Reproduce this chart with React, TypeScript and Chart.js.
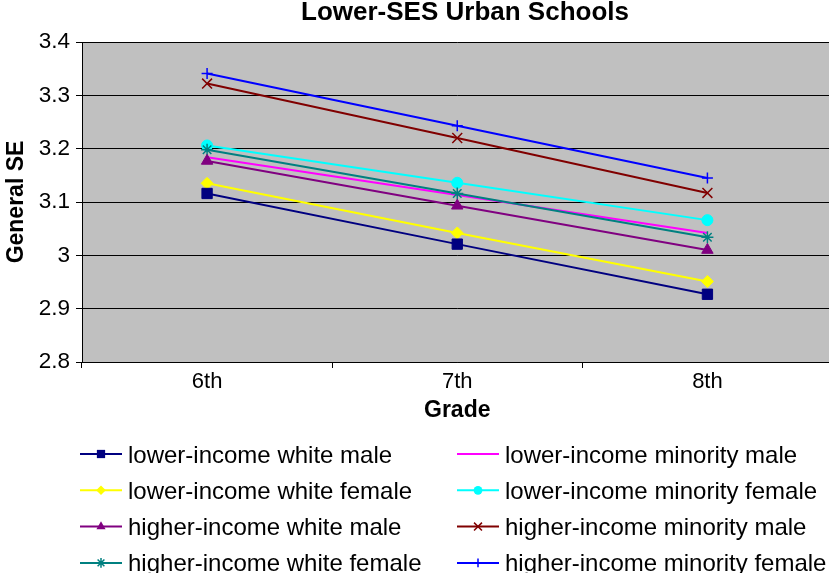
import React, { useEffect, useRef } from 'react';
import { Chart, registerables } from 'chart.js';

Chart.register(...registerables);

const chartTitle = 'Lower-SES Urban Schools';
const xAxisTitle = 'Grade';
const yAxisTitle = 'General SE';
const grades = ['6th', '7th', '8th'];
const yMin = 2.8;
const yMax = 3.4;
const yStep = 0.1;

const lowerIncomeWhiteMale = [3.116, 3.021, 2.927];
const lowerIncomeWhiteFemale = [3.135, 3.042, 2.951];
const higherIncomeWhiteMale = [3.177, 3.093, 3.010];
const higherIncomeWhiteFemale = [3.198, 3.116, 3.034];
const lowerIncomeMinorityMale = [3.184, 3.113, 3.042];
const lowerIncomeMinorityFemale = [3.206, 3.136, 3.066];
const higherIncomeMinorityMale = [3.322, 3.220, 3.117];
const higherIncomeMinorityFemale = [3.341, 3.243, 3.145];

const seriesNames = [
  'lower-income white male',
  'lower-income white female',
  'higher-income white male',
  'higher-income white female',
  'lower-income minority male',
  'lower-income minority female',
  'higher-income minority male',
  'higher-income minority female',
];
const seriesValues = [
  lowerIncomeWhiteMale,
  lowerIncomeWhiteFemale,
  higherIncomeWhiteMale,
  higherIncomeWhiteFemale,
  lowerIncomeMinorityMale,
  lowerIncomeMinorityFemale,
  higherIncomeMinorityMale,
  higherIncomeMinorityFemale,
];
const seriesColors = ['#000080', '#FFFF00', '#800080', '#008080', '#FF00FF', '#00FFFF', '#800000', '#0000FF'];
const seriesMarkers = ['rect', 'rectRot', 'triangle', 'star', 'none', 'circle', 'crossRot', 'cross'];
const markerRadius = [7.3, 6, 6.6, 6, 0, 5.5, 7, 5.5];

const FONT = '"Liberation Sans", Arial, Helvetica, sans-serif';
const CANVAS_W = 841;

function drawMarker(ctx: CanvasRenderingContext2D, style: string, x: number, y: number, r: number, color: string) {
  if (style === 'none' || r <= 0) return;
  ctx.save();
  ctx.fillStyle = color;
  ctx.strokeStyle = color;
  ctx.lineWidth = 1.5;
  ctx.beginPath();
  if (style === 'rect') {
    const s = r * Math.SQRT1_2;
    ctx.rect(x - s, y - s, 2 * s, 2 * s);
    ctx.fill();
  } else if (style === 'rectRot') {
    ctx.moveTo(x - r, y);
    ctx.lineTo(x, y - r);
    ctx.lineTo(x + r, y);
    ctx.lineTo(x, y + r);
    ctx.closePath();
    ctx.fill();
  } else if (style === 'triangle') {
    let a = 0;
    ctx.moveTo(x + Math.sin(a) * r, y - Math.cos(a) * r);
    a += (2 * Math.PI) / 3;
    ctx.lineTo(x + Math.sin(a) * r, y - Math.cos(a) * r);
    a += (2 * Math.PI) / 3;
    ctx.lineTo(x + Math.sin(a) * r, y - Math.cos(a) * r);
    ctx.closePath();
    ctx.fill();
  } else if (style === 'circle') {
    ctx.arc(x, y, r, 0, Math.PI * 2);
    ctx.fill();
  } else {
    const plus = () => {
      ctx.moveTo(x - r, y);
      ctx.lineTo(x + r, y);
      ctx.moveTo(x, y - r);
      ctx.lineTo(x, y + r);
    };
    const xs = () => {
      const d = r * Math.SQRT1_2;
      ctx.moveTo(x - d, y - d);
      ctx.lineTo(x + d, y + d);
      ctx.moveTo(x - d, y + d);
      ctx.lineTo(x + d, y - d);
    };
    if (style === 'cross') plus();
    if (style === 'crossRot') xs();
    if (style === 'star') {
      plus();
      xs();
    }
    ctx.stroke();
  }
  ctx.restore();
}

const plotBackground = {
  id: 'plotBackground',
  beforeDraw(chart: any) {
    const { ctx, chartArea: a } = chart;
    ctx.save();
    ctx.fillStyle = '#C0C0C0';
    ctx.fillRect(a.left, a.top, a.right - a.left, a.bottom - a.top);
    ctx.restore();
  },
};

const titleAndLegend = {
  id: 'titleAndLegend',
  afterDraw(chart: any) {
    const ctx: CanvasRenderingContext2D = chart.ctx;
    ctx.save();
    ctx.fillStyle = '#000';
    ctx.font = `bold 26px ${FONT}`;
    ctx.textAlign = 'center';
    ctx.textBaseline = 'alphabetic';
    ctx.fillText(chartTitle, 465, 19.5);

    ctx.font = `24px ${FONT}`;
    ctx.textAlign = 'left';
    const colLineX = [80, 457];
    const lineLen = 42;
    const rowY0 = 454;
    const rowGap = 36.3;
    chart.data.datasets.forEach((ds: any, i: number) => {
      const col = Math.floor(i / 4);
      const row = i % 4;
      const x0 = colLineX[col];
      const y = rowY0 + row * rowGap;
      ctx.strokeStyle = ds.borderColor;
      ctx.lineWidth = 2;
      ctx.beginPath();
      ctx.moveTo(x0, y);
      ctx.lineTo(x0 + lineLen, y);
      ctx.stroke();
      drawMarker(ctx, seriesMarkers[i], x0 + lineLen / 2, y, markerRadius[i] * 0.8, ds.borderColor);
      ctx.fillStyle = '#000';
      ctx.fillText(ds.label, x0 + lineLen + 6, y + 8.5);
    });
    ctx.restore();
  },
};

export default function App() {
  const canvasRef = useRef<HTMLCanvasElement | null>(null);

  useEffect(() => {
    document.body.style.margin = '0';
    document.body.style.overflow = 'hidden';
    const canvas = canvasRef.current;
    if (!canvas) return;
    Chart.defaults.font.family = FONT;
    Chart.defaults.color = '#000';

    const datasets = seriesNames.map((name, i) => ({
      label: name,
      data: seriesValues[i],
      borderColor: seriesColors[i],
      backgroundColor: seriesColors[i],
      borderWidth: 2,
      tension: 0,
      pointStyle: seriesMarkers[i] === 'none' ? false : (seriesMarkers[i] as any),
      pointRadius: markerRadius[i],
      pointBorderWidth: seriesMarkers[i].startsWith('cross') || seriesMarkers[i] === 'star' ? 1.5 : 1,
      pointHoverRadius: markerRadius[i],
      fill: false,
    }));

    const chart = new Chart(canvas, {
      type: 'line',
      data: { labels: grades, datasets },
      options: {
        responsive: false,
        animation: false,
        devicePixelRatio: 1,
        layout: { padding: { top: 42, bottom: 149, left: 0, right: 1 } },
        plugins: {
          legend: { display: false },
          title: { display: false },
          tooltip: { enabled: false },
        },
        scales: {
          x: {
            type: 'category',
            offset: true,
            grid: { offset: true, drawOnChartArea: false, color: '#000', tickLength: 6, lineWidth: 1 },
            border: { color: '#000', width: 1 },
            ticks: { font: { size: 22 }, color: '#000', padding: 1, maxRotation: 0 },
            title: { display: true, text: xAxisTitle, font: { size: 23, weight: 'bold' }, color: '#000', padding: 0 },
            afterFit: (scale: any) => {
              scale.height = 62;
            },
          },
          y: {
            min: yMin,
            max: yMax,
            grid: { color: '#000', tickLength: 6, lineWidth: 1 },
            border: { color: '#000', width: 1 },
            ticks: {
              stepSize: yStep,
              font: { size: 22.5 },
              color: '#000',
              padding: 6,
              callback: (v: any) => String(Number(Number(v).toFixed(1))),
            },
            title: { display: true, text: yAxisTitle, font: { size: 23, weight: 'bold' }, color: '#000', padding: { top: 3, bottom: 0 } },
            afterFit: (scale: any) => {
              scale.width = 82;
            },
          },
        },
      },
      plugins: [plotBackground, titleAndLegend],
    });
    return () => chart.destroy();
  }, []);

  return (
    <div style={{ width: 829, height: 573, overflow: 'hidden', background: '#fff' }}>
      <canvas ref={canvasRef} width={CANVAS_W} height={573} style={{ width: CANVAS_W, height: 573, display: 'block' }} />
    </div>
  );
}
